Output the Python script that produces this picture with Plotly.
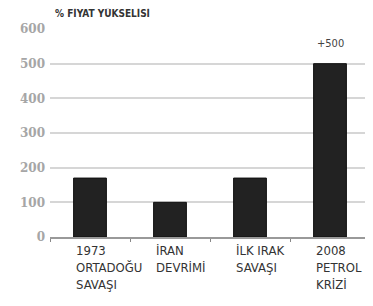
import plotly.graph_objects as go

categories = ["1973<br>ORTADOĞU<br>SAVAŞI", "İRAN<br>DEVRİMİ", "İLK IRAK<br>SAVAŞI", "2008<br>PETROL<br>KRİZİ"]
values = [170, 100, 170, 500]
tick_vals = [0, 100, 200, 300, 400, 500, 600]
title_text = "% FİYAT YÜKSELİSİ"
peak_label = "+500"

cond = "DejaVu Sans Condensed, Liberation Sans Narrow, sans-serif"
bw = 0.41
x = list(range(len(values)))

fig = go.Figure(go.Bar(
    x=x, y=values, width=bw,
    marker=dict(color="#222222", line=dict(color="#111111", width=1)),
    hoverinfo="skip",
))

ann = []
for i, c in enumerate(categories):
    ann.append(dict(x=i - bw / 2, y=0, xref="x", yref="paper", text=c, showarrow=False,
                    xanchor="left", yanchor="top", align="left", yshift=-4,
                    font=dict(family=cond, size=13, color="#333333")))
ann.append(dict(x=3, y=values[3], xref="x", yref="y", text=peak_label, showarrow=False,
                yanchor="bottom", yshift=12, font=dict(family=cond, size=11, color="#444444")))
ann.append(dict(x=0, y=1, xref="paper", yref="paper", text="<b>" + title_text + "</b>", showarrow=False,
                xanchor="left", yanchor="bottom", xshift=3, yshift=8,
                font=dict(family=cond, size=10, color="#333333")))

# page body has an 8px default margin, so the figure is sized/offset to compensate
fig.update_layout(
    width=365, height=298,
    margin=dict(l=42, r=3, t=21, b=69),
    paper_bgcolor="white", plot_bgcolor="white",
    showlegend=False,
    annotations=ann,
    xaxis=dict(range=[-0.5, 3.5], tickvals=[-0.5, 0.5, 1.5, 2.5, 3.5], showticklabels=False,
               ticks="outside", ticklen=3, tickcolor="#888888", tickwidth=1,
               showline=True, linecolor="#999999", linewidth=2, showgrid=False, zeroline=False,
               fixedrange=True),
    yaxis=dict(range=[0, 600], tickvals=tick_vals, showgrid=True, gridcolor="#d6d6d6", gridwidth=1.5,
               zeroline=False, ticks="", ticklabelstandoff=4, automargin=False,
               tickfont=dict(family="DejaVu Serif", size=12, color="#a6a6a6", weight="bold"),
               fixedrange=True),
)

fig.write_html("out.html")
